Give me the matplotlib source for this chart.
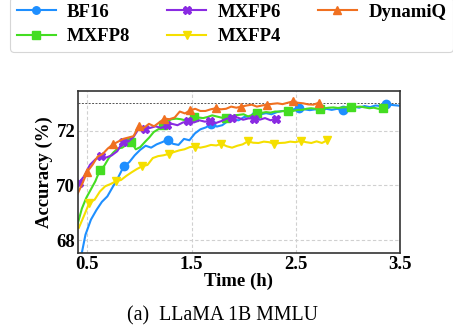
import numpy as np
import matplotlib
matplotlib.use("Agg")
import matplotlib.pyplot as plt

# ---------------- data ----------------
bf16_t = 0.43 + 0.0525 * np.arange(60)
bf16_acc = [67.2, 68.2, 68.75, 69.1, 69.4, 69.6, 69.95, 70.3, 70.7, 70.85,
            71.1, 71.3, 71.45, 71.38, 71.5, 71.58, 71.67, 71.52, 71.48, 71.7,
            71.65, 71.9, 72.05, 72.12, 72.25, 72.15, 72.2, 72.35, 72.4, 72.38,
            72.5, 72.52, 72.55, 72.6, 72.64, 72.6, 72.68, 72.72, 72.7, 72.78,
            72.82, 72.78, 72.75, 72.78, 72.72, 72.8, 72.76, 72.8, 72.74, 72.82,
            72.88, 72.84, 72.9, 72.86, 72.92, 72.9, 72.97, 72.94, 72.92, 72.9]

mxfp6_t = 0.42 + 0.0525 * np.arange(37)
mxfp6_acc = [70.1, 70.35, 70.75, 70.95, 71.07, 71.02, 71.1, 71.25, 71.58, 71.6,
             71.78, 72.1, 72.06, 72.1, 72.16, 72.1, 72.2, 72.25, 72.2, 72.3,
             72.34, 72.3, 72.38, 72.33, 72.36, 72.28, 72.35, 72.44, 72.46, 72.48,
             72.4, 72.45, 72.44, 72.4, 72.46, 72.38, 72.44]

dyn_t = 0.4014 + 0.0493 * np.arange(48)
dyn_acc = [69.65, 70.05, 70.5, 70.75, 71.05, 71.15, 71.35, 71.5, 71.6, 71.7,
           71.75, 71.8, 72.16, 72.1, 72.25, 72.16, 72.3, 72.44, 72.42, 72.48,
           72.7, 72.63, 72.74, 72.8, 72.72, 72.72, 72.78, 72.82, 72.78, 72.8,
           72.88, 72.84, 72.88, 72.92, 72.95, 72.88, 72.92, 72.95, 72.98, 73.0,
           72.97, 73.02, 73.07, 73.02, 73.0, 72.96, 72.95, 73.02]

mxfp8_t = 0.4045 + 0.0431 * np.arange(69)
mxfp8_acc = [68.55, 69.15, 69.55, 69.85, 70.15, 70.55, 70.72, 71.0, 71.2, 71.35,
             71.38, 71.5, 71.59, 71.32, 71.4, 71.58, 71.75, 71.95, 72.05, 72.22,
             72.35, 72.42, 72.44, 72.42, 72.38, 72.45, 72.5, 72.48, 72.46, 72.5,
             72.56, 72.52, 72.48, 72.46, 72.5, 72.56, 72.58, 72.6, 72.52, 72.58,
             72.64, 72.65, 72.68, 72.66, 72.7, 72.7, 72.72, 72.73, 72.72, 72.76,
             72.76, 72.8, 72.82, 72.8, 72.8, 72.82, 72.84, 72.85, 72.83, 72.85,
             72.86, 72.85, 72.87, 72.88, 72.85, 72.82, 72.84, 72.8, 72.82]

mxfp4_t = 0.4186 + 0.0507 * np.arange(48)
mxfp4_acc = [68.45, 68.9, 69.37, 69.48, 69.78, 69.97, 70.05, 70.15, 70.2, 70.35,
             70.48, 70.6, 70.7, 70.75, 71.0, 71.07, 71.1, 71.15, 71.22, 71.28,
             71.32, 71.4, 71.42, 71.38, 71.42, 71.48, 71.46, 71.52, 71.43, 71.38,
             71.45, 71.5, 71.61, 71.56, 71.55, 71.6, 71.58, 71.52, 71.55, 71.56,
             71.6, 71.58, 71.63, 71.58, 71.55, 71.61, 71.55, 71.65]

ref_line = 73.0
x_ticks = [0.5, 1.5, 2.5, 3.5]
y_ticks = [68, 70, 72]

# ---------------- style ----------------
plt.rcParams['font.family'] = ['Liberation Serif', 'DejaVu Serif']
plt.rcParams['font.weight'] = 'bold'

fig = plt.figure(figsize=(4.53, 3.25), dpi=100)
ax = fig.add_axes([0.172, 0.2215, 0.711, 0.4985])

lw = 1.5
ms = 6
series = [
    ("BF16", bf16_t, bf16_acc, "#1E8FFF", "o", slice(0, None, 8)),
    ("MXFP8", mxfp8_t, mxfp8_acc, "#44DD22", "s", slice(5, None, 7)),
    ("MXFP6", mxfp6_t, mxfp6_acc, "#8A2BE2", "X", slice(0, None, 4)),
    ("MXFP4", mxfp4_t, mxfp4_acc, "#F5DF00", "v", slice(2, None, 5)),
    ("DynamiQ", dyn_t, dyn_acc, "#F07020", "^", slice(2, None, 5)),
]
handles = []
for name, t, acc, col, mk, me in series:
    h, = ax.plot(t, acc, color=col, lw=lw, marker=mk, markersize=ms,
                 markevery=me, label=name)
    handles.append(h)

ax.axhline(ref_line, color='#555555', lw=0.7, ls=(0, (2, 1.5)), zorder=1)

ax.set_xlim(0.41, 3.5)
ax.set_ylim(67.53, 73.45)
ax.set_xticks(x_ticks)
ax.set_xticklabels([str(v) for v in x_ticks])
ax.set_yticks(y_ticks)
ax.tick_params(length=0, labelsize=13.5, pad=2)
for lab in ax.get_xticklabels() + ax.get_yticklabels():
    lab.set_fontweight('bold')
ax.grid(True, color='#d0d0d0', lw=0.8, ls=(0, (3, 2)))
ax.set_axisbelow(True)
for s in ax.spines.values():
    s.set_color('#333333')
    s.set_linewidth(1.2)

ax.set_xlabel("Time (h)", fontsize=13.5, fontweight='bold', labelpad=0)
ax.set_ylabel("Accuracy (%)", fontsize=13.5, fontweight='bold', labelpad=2)

leg = fig.legend(handles=handles, loc='lower left', bbox_to_anchor=(0.022, 0.84),
                 borderaxespad=0, ncol=3, fontsize=13.5, frameon=True,
                 handlelength=2.1, handletextpad=0.6, columnspacing=1.95,
                 labelspacing=0.4, borderpad=0.35, fancybox=True,
                 markerscale=0.9)
leg.get_frame().set_edgecolor('#cccccc')
leg.get_frame().set_linewidth(0.8)
for txt in leg.get_texts():
    txt.set_fontweight('bold')

fig.text(0.492, 0.028, "(a)  LLaMA 1B MMLU", ha='center', va='center',
         fontsize=14.3, fontweight='normal')

fig.savefig("out.png", dpi=100)
